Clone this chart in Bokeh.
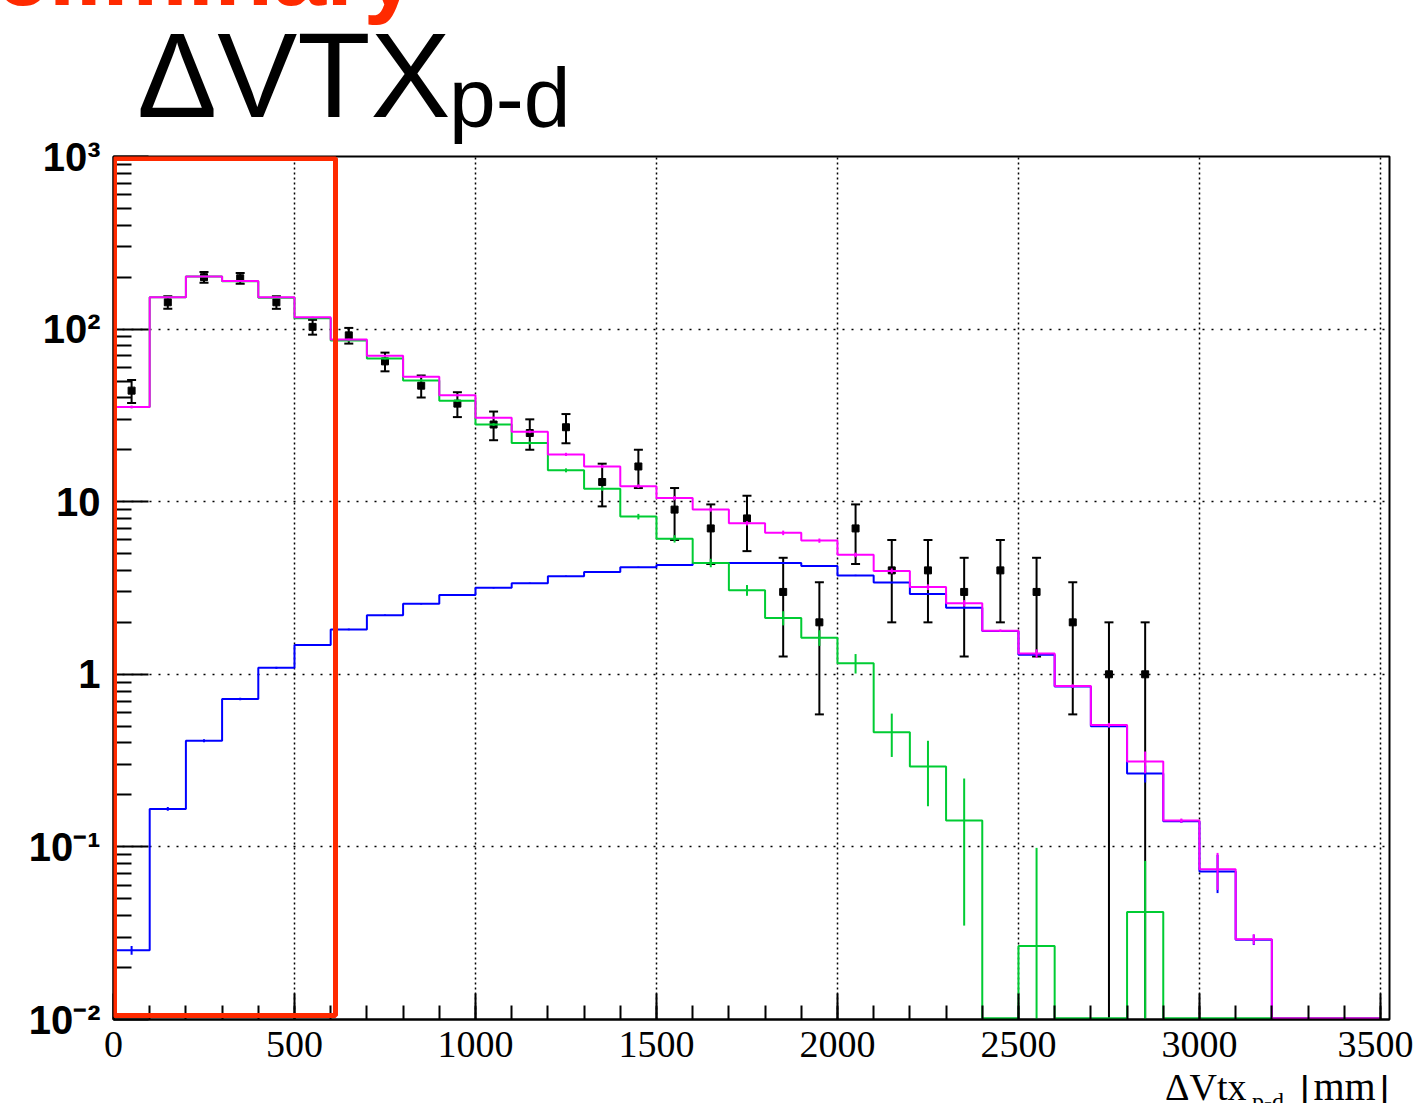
import numpy as np
from bokeh.plotting import figure
from bokeh.layouts import column
from bokeh.models import Range1d, FixedTicker, BoxAnnotation, Div
from bokeh.embed import file_html
from bokeh.resources import INLINE

# ---------------- data ----------------
bin_edges = list(range(0, 3600, 100))          # 35 bins of 100 mm
data_counts = [44, 143, 200, 197, 143, 103, 92, 65, 47, 37, 28, 25, 27, 13, 16, 9, 7, 8, 3, 2,
               7, 4, 4, 3, 4, 3, 2, 1, 1, 0, 0, 0, 0, 0, 0]
total_mc = [35.4, 153, 202, 190, 153, 117, 87, 70, 53, 41.4, 30.6, 25.4, 18.8, 16.0, 12.3, 10.5,
            9.0, 7.5, 6.6, 5.95, 4.92, 3.97, 3.2, 2.58, 1.79, 1.32, 0.855, 0.508, 0.312, 0.142,
            0.0743, 0.0292, 0, 0, 0]
total_err = [0.6, 1.2, 1.4, 1.4, 1.2, 1.0, 0.9, 0.8, 0.7, 0.6, 0.5, 0.45, 0.4, 0.35, 0.3, 0.3,
             0.25, 0.22, 0.2, 0.17, 0.15, 0.13, 0.12, 0.11, 0.03, 0.075, 0.02, 0.015, 0.045, 0.004,
             0.018, 0.002, 0, 0, 0]
green_mc = [35.4, 152.8, 201.6, 189.3, 152, 115.5, 86, 67.6, 50.4, 38.5, 28, 21.9, 15.2, 11.9,
            8.2, 6.1, 4.42, 3.07, 2.12, 1.63, 1.16, 0.462, 0.292, 0.142, 0, 0.0267, 0, 0, 0.042,
            0, 0, 0, 0, 0, 0]
green_err = [0.6, 1.2, 1.4, 1.4, 1.2, 1.0, 0.9, 0.8, 0.7, 0.6, 0.5, 0.45, 0.4, 0.35, 0.3, 0.3,
             0.25, 0.22, 0.2, 0.17, 0.15, 0.13, 0.12, 0.107, 0, 0.072, 0, 0, 0.041, 0, 0, 0, 0, 0, 0]
blue_mc = [0.0252, 0.166, 0.412, 0.72, 1.09, 1.48, 1.82, 2.2, 2.56, 2.88, 3.17, 3.37, 3.7, 3.92,
           4.17, 4.3, 4.42, 4.42, 4.42, 4.24, 3.74, 3.4, 2.92, 2.43, 1.78, 1.3, 0.85, 0.5, 0.266,
           0.141, 0.072, 0.029, 0, 0, 0]
blue_err = [0.0015, 0.004, 0.008, 0.012, 0.015, 0.018, 0.02, 0.022, 0.025, 0.027, 0.03, 0.03,
            0.032, 0.033, 0.035, 0.035, 0.036, 0.036, 0.036, 0.035, 0.033, 0.03, 0.028, 0.026,
            0.02, 0.018, 0.015, 0.012, 0.03, 0.003, 0.018, 0.002, 0, 0, 0]

x_major = [0, 500, 1000, 1500, 2000, 2500, 3000, 3500]
y_major = [0.01, 0.1, 1, 10, 100, 1000]
y_labels = {0.01: "10⁻²", 0.1: "10⁻¹", 1: "1", 10: "10", 100: "10²", 1000: "10³"}

title_main = "ΔVTX"
title_sub = "p-d"
stamp = "Preliminary"
xtitle_main = "ΔVtx"
xtitle_sub = "p-d"
xtitle_unit = "[mm]"

# ---------------- layout (pixels) ----------------
W, H = 1413, 1103
TOP_H = 150            # header strip (title texts)
OVERLAP = 36           # the plot canvas starts this far above the header's bottom
BOT_Y = 1075           # start of footer strip (axis title)
FL, FR, FT, FB = 113, 1389, 156, 1019
X0, X1 = 0, 3525
Y0, Y1 = 0.01, 1000

MAGENTA = "#ff00ff"
GREEN = "#00cc33"
BLUE = "#0000ff"
RED = "#ff2a00"


def xd(px):
    return X0 + (px - FL) / (FR - FL) * (X1 - X0)


def yd(py):
    l1, l0 = np.log10(Y1), np.log10(Y0)
    return 10 ** (l1 - (py - FT) / (FB - FT) * (l1 - l0))


YFLOOR = yd(FB - 1.2)


def span(text, size, baseline, font, ascent, descent, color="black", bold=False,
         left=None, right=None):
    # place a text so that its baseline sits at `baseline` px from the strip top
    top = baseline - (ascent - (ascent + descent - 1.0) / 2.0) * size
    pos = f"left:{left}px;" if left is not None else f"right:{right}px;"
    weight = "bold" if bold else "normal"
    return (f'<span style="position:absolute;{pos}top:{top:.1f}px;font-family:\'{font}\';'
            f'font-size:{size}px;line-height:{size}px;font-weight:{weight};color:{color};'
            f'white-space:nowrap;">{text}</span>')


SANS = ("Liberation Sans", 0.905, 0.212)
SERIF = ("Liberation Serif", 0.891, 0.216)

header_html = (
    f'<div style="position:relative;width:{W}px;height:{TOP_H}px;overflow:hidden;">'
    + span(stamp, 96, 5, *SANS, color=RED, bold=True, right=W - 417)
    + span(title_main, 120, 117, *SANS, left=137)
    + span(title_sub, 84, 127, *SANS, left=449)
    + '</div>'
)
header = Div(text=header_html, width=W, height=TOP_H, margin=(0, 0, -OVERLAP, 0))

# ---------------- main plot ----------------
PLOT_TOP = TOP_H - OVERLAP
main_h = BOT_Y - PLOT_TOP
p = figure(width=W, height=main_h, x_range=Range1d(X0, X1), y_range=Range1d(Y0, Y1),
           y_axis_type="log", output_backend="svg", toolbar_location=None,
           min_border_left=FL, min_border_right=W - FR, min_border_top=FT - PLOT_TOP,
           min_border_bottom=BOT_Y - FB, margin=0)
p.background_fill_color = "white"
p.border_fill_color = None
p.outline_line_color = "black"
p.outline_line_width = 2

p.xgrid.grid_line_color = "black"
p.xgrid.grid_line_dash = "2 3"
p.xgrid.grid_line_width = 1.5
p.ygrid.grid_line_color = "black"
p.ygrid.grid_line_dash = "2 7"
p.ygrid.grid_line_width = 1.5

xa = p.xaxis[0]
xa.ticker = FixedTicker(ticks=x_major, minor_ticks=list(range(100, 3600, 100)))
xa.major_tick_in = 26
xa.major_tick_out = 0
xa.minor_tick_in = 14
xa.minor_tick_out = 0
xa.major_tick_line_width = 2
xa.minor_tick_line_width = 2
xa.axis_line_width = 2
xa.major_label_text_font = "Liberation Serif"
xa.major_label_text_font_size = "38px"
xa.major_label_text_color = "black"
xa.major_label_standoff = 12

ya = p.yaxis[0]
ya.ticker = FixedTicker(ticks=y_major,
                        minor_ticks=[m * 10.0 ** k for k in range(-2, 3) for m in range(2, 10)])
ya.major_label_overrides = y_labels
ya.major_tick_in = 35
ya.major_tick_out = 0
ya.minor_tick_in = 18
ya.minor_tick_out = 0
ya.major_tick_line_width = 2
ya.minor_tick_line_width = 2
ya.axis_line_width = 2
ya.major_label_text_font = "Liberation Sans"
ya.major_label_text_font_style = "bold"
ya.major_label_text_font_size = "40px"
ya.major_label_text_color = "black"
ya.major_label_standoff = 13

edges = np.array(bin_edges, dtype=float)
centers = 0.5 * (edges[:-1] + edges[1:])


def step_xy(vals):
    v = np.maximum(np.array(vals, dtype=float), YFLOOR)
    xs = np.repeat(edges, 2)[1:-1]
    ys = np.repeat(v, 2)
    return xs, ys


def mc_errors(vals, errs, color):
    v = np.array(vals, dtype=float)
    e = np.array(errs, dtype=float)
    m = e > 0
    lo = np.maximum(v[m] - e[m], Y0 * 0.5)
    hi = v[m] + e[m]
    p.segment(x0=centers[m], y0=lo, x1=centers[m], y1=hi, line_color=color, line_width=2)


# data points (drawn first, as in the original)
n = np.array(data_counts, dtype=float)
has = n > 0
err = np.sqrt(n)
dlo = n - err
dhi = n + err
p.segment(x0=centers[has], y0=np.where(dlo[has] > 0, dlo[has], Y0 * 0.5),
          x1=centers[has], y1=dhi[has], line_color="black", line_width=2)
p.scatter(centers[has], dhi[has], marker="dash", size=9, line_color="black", line_width=2)
lom = has & (dlo > 0)
p.scatter(centers[lom], dlo[lom], marker="dash", size=9, line_color="black", line_width=2)
p.scatter(centers[has], n[has], marker="square", size=7, fill_color="black", line_color="black")

for vals, errs, col in [(blue_mc, blue_err, BLUE), (green_mc, green_err, GREEN),
                        (total_mc, total_err, MAGENTA)]:
    xs, ys = step_xy(vals)
    p.line(xs, ys, line_color=col, line_width=2)
    mc_errors(vals, errs, col)

p.add_layout(BoxAnnotation(left=xd(114), right=xd(335), top=yd(158), bottom=yd(1015),
                           fill_color=None, fill_alpha=0, line_color=RED, line_alpha=1.0,
                           line_width=5))

# ---------------- footer (axis title) ----------------
BH = H - BOT_Y
footer_html = (
    f'<div style="position:relative;width:{W}px;height:{BH}px;overflow:hidden;">'
    + span(xtitle_main, 38, 1100 - BOT_Y, *SERIF, left=1165)
    + span(xtitle_sub, 24, 1109 - BOT_Y, *SERIF, left=1252)
    + span(xtitle_unit, 40, 1100 - BOT_Y, *SERIF, right=W - 1389)
    + '</div>'
)
footer = Div(text=footer_html, width=W, height=BH, margin=0)

layout = column(header, p, footer, spacing=0)
open("out.html", "w").write(file_html(layout, INLINE))
